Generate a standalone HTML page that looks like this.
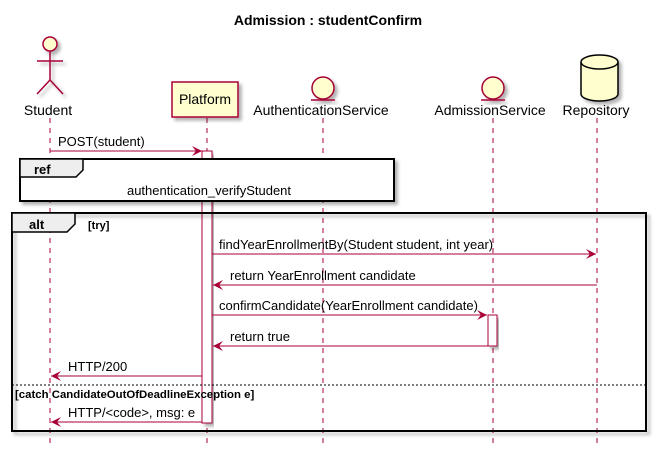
<!DOCTYPE html>
<html><head><style>html,body{margin:0;padding:0;background:#fff}svg{display:block}</style></head><body>
<svg width="657" height="458" xmlns="http://www.w3.org/2000/svg" font-family="Liberation Sans, sans-serif" font-size="13">
<defs>
<filter id="sh" x="-10%" y="-10%" width="130%" height="130%"><feDropShadow dx="3" dy="3" stdDeviation="1.5" flood-color="#000" flood-opacity="0.3"/></filter>
<marker id="ah" viewBox="0 0 10 10" refX="10" refY="5" markerWidth="10" markerHeight="10" markerUnits="userSpaceOnUse" orient="auto"><path d="M0,0 L10,5 L0,10 L4,5 Z" fill="#A80036"/></marker>
</defs>
<text x="328" y="25" text-anchor="middle" font-weight="bold" font-size="14">Admission : studentConfirm</text>
<g stroke="#A80036" stroke-dasharray="5,5" stroke-width="1">
<line x1="50" y1="118" x2="50" y2="445"/>
<line x1="207" y1="118" x2="207" y2="445"/>
<line x1="323" y1="118" x2="323" y2="445"/>
<line x1="493" y1="118" x2="493" y2="445"/>
<line x1="597" y1="118" x2="597" y2="445"/>
</g>
<g stroke="#A80036" stroke-width="1.5" fill="none" filter="url(#sh)">
<circle cx="50" cy="44" r="7" fill="#FEFECE"/>
<line x1="50" y1="51" x2="50" y2="80"/>
<line x1="37" y1="61" x2="63" y2="61"/>
<polyline points="37,94 50,80 63,94"/>
</g>
<text x="48" y="115" text-anchor="middle" font-size="14">Student</text>
<rect x="172" y="82" width="66" height="35" fill="#FEFECE" stroke="#A80036" stroke-width="1.5" filter="url(#sh)"/>
<text x="205" y="104" text-anchor="middle" font-size="14">Platform</text>
<g stroke="#A80036" stroke-width="1.5" fill="#FEFECE" filter="url(#sh)">
<circle cx="323" cy="88" r="11"/><line x1="311" y1="100" x2="335" y2="100"/>
<circle cx="493" cy="88" r="11"/><line x1="481" y1="100" x2="505" y2="100"/>
</g>
<text x="321" y="115" text-anchor="middle" font-size="14">AuthenticationService</text>
<text x="490" y="115" text-anchor="middle" font-size="14">AdmissionService</text>
<g filter="url(#sh)" stroke="#000" stroke-width="1.5" fill="#FEFECE">
<path d="M581,62 A18.5,7 0 0 1 618,62 L618,94 A18.5,7 0 0 1 581,94 Z"/>
<path d="M581,62 A18.5,7 0 0 0 618,62" fill="none"/>
</g>
<text x="596" y="115" text-anchor="middle" font-size="14">Repository</text>
<rect x="202" y="151" width="10" height="272" fill="#fff" stroke="#A80036" filter="url(#sh)"/>
<rect x="488" y="315" width="9" height="31" fill="#fff" stroke="#A80036" filter="url(#sh)"/>
<line x1="50" y1="151" x2="202" y2="151" stroke="#A80036" marker-end="url(#ah)"/>
<text x="58" y="146">POST(student)</text>
<rect x="20" y="159" width="374" height="42" fill="#fff" stroke="#000" stroke-width="2" filter="url(#sh)"/>
<path d="M20,159 L83,159 L83,170 L76,177 L20,177 Z" fill="#EEEEEE" stroke="#000" stroke-width="1.5"/>
<text x="34" y="174" font-weight="bold" font-size="13">ref</text>
<text x="209" y="195" text-anchor="middle">authentication_verifyStudent</text>
<rect x="12" y="213" width="634" height="218" fill="none" stroke="#000" stroke-width="2" filter="url(#sh)"/>
<path d="M12,213 L75,213 L75,224 L67,232 L12,232 Z" fill="#EEEEEE" stroke="#000" stroke-width="1.5"/>
<text x="29" y="229" font-weight="bold" font-size="13">alt</text>
<text x="88" y="229" font-weight="bold" font-size="11">[try]</text>
<line x1="12" y1="385" x2="646" y2="385" stroke="#000" stroke-dasharray="2,2"/>
<text x="15" y="398" font-weight="bold" font-size="11.4">[catch CandidateOutOfDeadlineException e]</text>
<g stroke="#A80036" stroke-width="1">
<line x1="212" y1="254" x2="596" y2="254" marker-end="url(#ah)"/>
<line x1="597" y1="285" x2="213" y2="285" marker-end="url(#ah)"/>
<line x1="212" y1="315" x2="487" y2="315" marker-end="url(#ah)"/>
<line x1="488" y1="346" x2="213" y2="346" marker-end="url(#ah)"/>
<line x1="202" y1="376" x2="51" y2="376" marker-end="url(#ah)"/>
<line x1="202" y1="422" x2="51" y2="422" marker-end="url(#ah)"/>
</g>
<text x="219" y="249">findYearEnrollmentBy(Student student, int year)</text>
<text x="230" y="280">return YearEnrollment candidate</text>
<text x="219" y="310">confirmCandidate(YearEnrollment candidate)</text>
<text x="230" y="341">return true</text>
<text x="68" y="371">HTTP/200</text>
<text x="68" y="417">HTTP/&lt;code&gt;, msg: e</text>
</svg>
</body></html>
